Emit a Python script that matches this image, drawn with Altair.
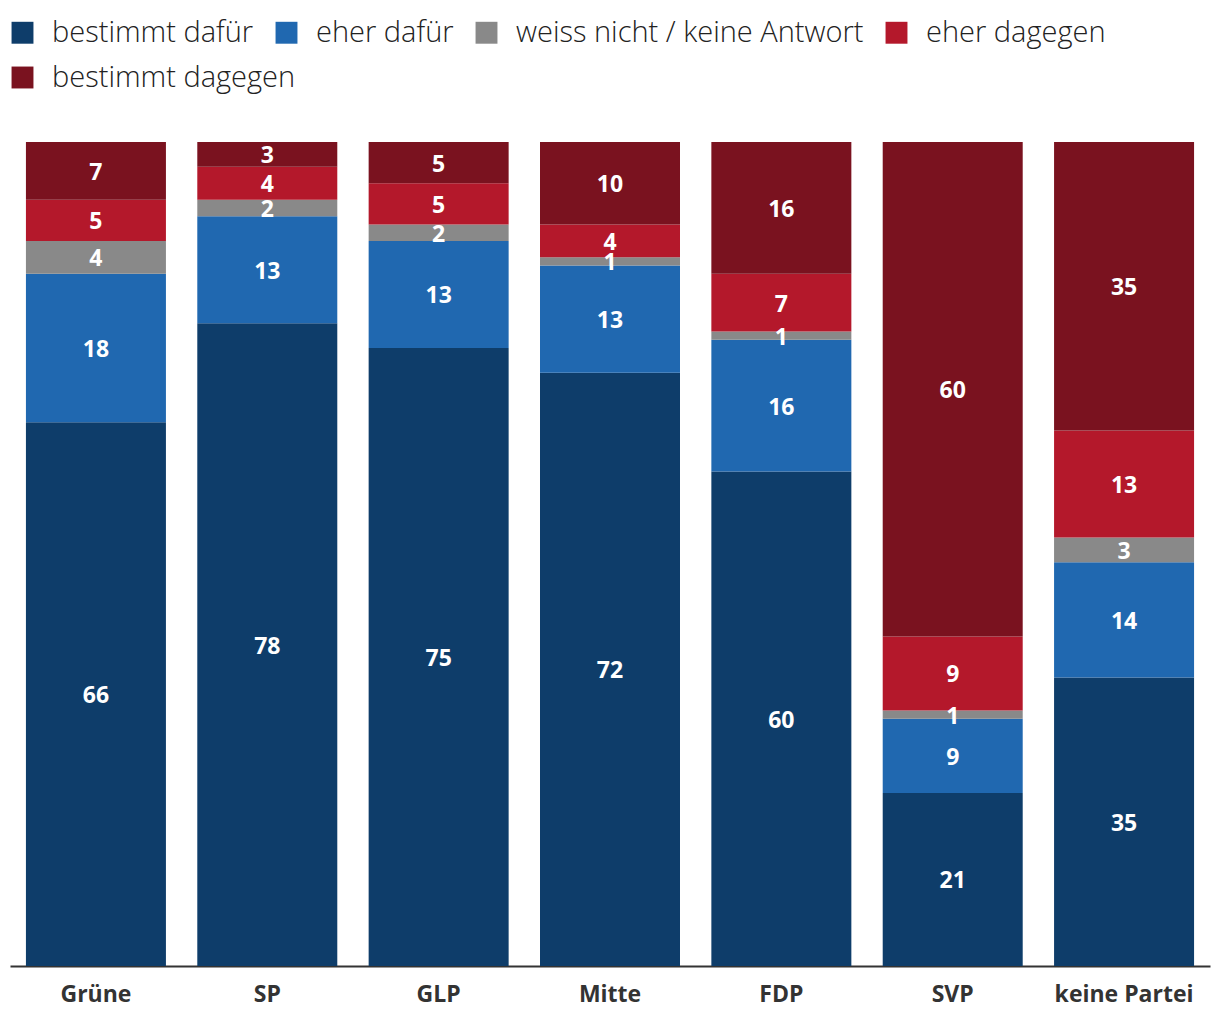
import altair as alt
import pandas as pd

parties = ["Grüne", "SP", "GLP", "Mitte", "FDP", "SVP", "keine Partei"]
categories = ["bestimmt dafür", "eher dafür", "weiss nicht / keine Antwort", "eher dagegen", "bestimmt dagegen"]
colors = ["#0e3d6a", "#2068b0", "#898989", "#b4182b", "#7a121f"]

bestimmt_dafuer = [66, 78, 75, 72, 60, 21, 35]
eher_dafuer = [18, 13, 13, 13, 16, 9, 14]
weiss_nicht = [4, 2, 2, 1, 1, 1, 3]
eher_dagegen = [5, 4, 5, 4, 7, 9, 13]
bestimmt_dagegen = [7, 3, 5, 10, 16, 60, 35]

series = [bestimmt_dafuer, eher_dafuer, weiss_nicht, eher_dagegen, bestimmt_dagegen]
rows = []
for ci, (cat, vals) in enumerate(zip(categories, series)):
    for p, v in zip(parties, vals):
        rows.append({"party": p, "cat": cat, "value": v, "ord": ci})
df = pd.DataFrame(rows)

FONT = "Open Sans"

base = alt.Chart(df).transform_stack(
    stack="value", as_=["y0", "y1"], groupby=["party"], sort=[alt.SortField("ord", order="ascending")]
).transform_calculate(mid="(datum.y0 + datum.y1) / 2")

x_enc = alt.X("party:N", sort=parties, title=None,
              scale=alt.Scale(paddingInner=0.183, paddingOuter=0.093),
              axis=alt.Axis(labelAngle=0, labelFont=FONT, labelFontSize=23, labelFontWeight="bold",
                            labelColor="#333333", ticks=False, labelPadding=17,
                            domainColor="#333333", domainWidth=2))
y_enc = alt.Y("y0:Q", scale=alt.Scale(domain=[0, 100]), axis=None)

legend_common = dict(title=None, orient="none", direction="horizontal",
                     symbolType="square", symbolSize=480, symbolStrokeWidth=0,
                     labelFont=FONT, labelFontSize=29, labelFontWeight=300,
                     labelColor="#222222", labelOffset=15, columnPadding=18,
                     labelLimit=600, padding=0)

bars_a = base.transform_filter(alt.datum.ord < 4).mark_bar().encode(
    x=x_enc, y=y_enc, y2="y1:Q",
    color=alt.Color("cat:N", scale=alt.Scale(domain=categories[:4], range=colors[:4]),
                    legend=alt.Legend(legendX=-2, legendY=-124, **legend_common)),
)

bars_b = base.transform_filter(alt.datum.ord == 4).mark_bar().encode(
    x=x_enc, y=y_enc, y2="y1:Q",
    fill=alt.Fill("cat:N", scale=alt.Scale(domain=categories[4:], range=colors[4:]),
                  legend=alt.Legend(legendX=-2, legendY=-79, **legend_common)),
)

labels = base.mark_text(font=FONT, fontSize=23, fontWeight="bold", color="white", dy=2).encode(
    x=alt.X("party:N", sort=parties),
    y=alt.Y("mid:Q"),
    text=alt.Text("value:Q"),
)

chart = alt.layer(bars_a, bars_b, labels).resolve_scale(color="independent", fill="independent").properties(
    width=1200, height=824,
    autosize=alt.AutoSizeParams(type="none"),
    padding={"left": 2, "top": 134, "right": 2, "bottom": 50},
).configure_view(stroke=None)

chart.save("out.html", embed_options={"renderer": "svg", "actions": False})
